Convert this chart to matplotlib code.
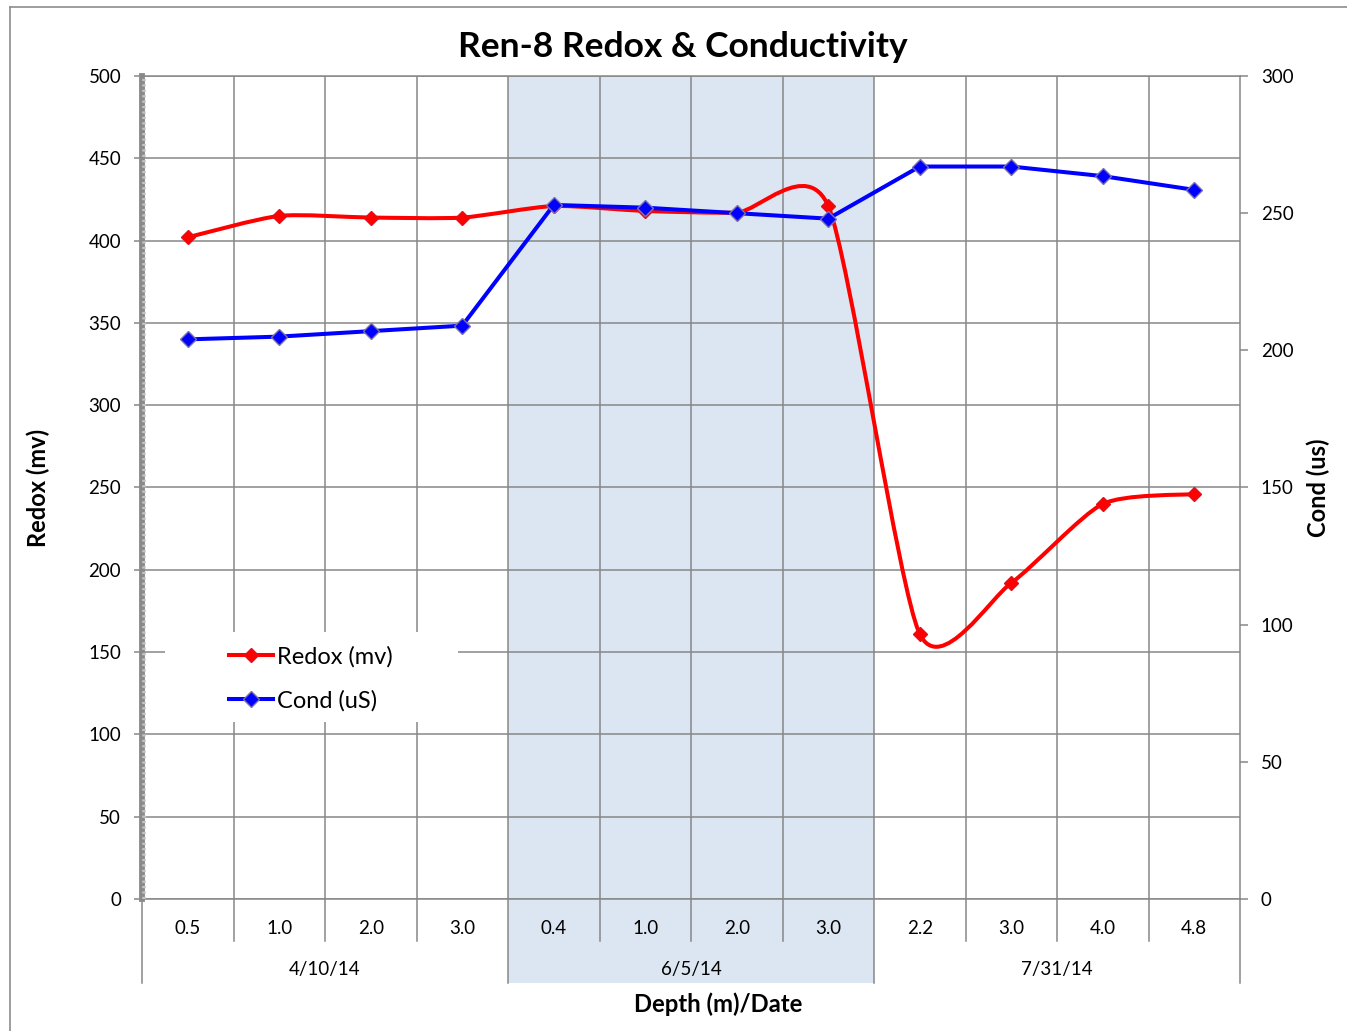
import matplotlib
matplotlib.use("Agg")
import matplotlib.pyplot as plt
from matplotlib.path import Path
from matplotlib.patches import PathPatch, Rectangle
from matplotlib.lines import Line2D
import matplotlib.transforms as mtransforms

plt.rcParams["font.family"] = ["Lato", "DejaVu Sans"]

# =====================
# DATA
# =====================

depths = ["0.5", "1.0", "2.0", "3.0",
          "0.4", "1.0", "2.0", "3.0",
          "2.2", "3.0", "4.0", "4.8"]

dates = ["4/10/14", "6/5/14", "7/31/14"]
group_size = [4, 4, 4]

redox = [402, 415, 414, 414, 421, 418, 417, 421, 161, 192, 240, 246]
cond = [204, 205, 207, 209, 253, 252, 250, 248, 267, 267, 263.5, 258.5]

x = list(range(len(depths)))

GRID = "#878787"
SHADE = "#DCE6F2"


def smooth_path(xs, ys, f=0.115):
    # bezier through the points, like excel's smoothed line
    verts = [(xs[0], ys[0])]
    codes = [Path.MOVETO]
    n = len(xs)
    for i in range(n - 1):
        i0 = max(i - 1, 0)
        i3 = min(i + 2, n - 1)
        c1 = (xs[i] + (xs[i + 1] - xs[i0]) * f, ys[i] + (ys[i + 1] - ys[i0]) * f)
        c2 = (xs[i + 1] - (xs[i3] - xs[i]) * f, ys[i + 1] - (ys[i3] - ys[i]) * f)
        verts += [c1, c2, (xs[i + 1], ys[i + 1])]
        codes += [Path.CURVE4] * 3
    return Path(verts, codes)


# =====================
# FIGURE
# =====================

fig = plt.figure(figsize=(13.47, 10.31), dpi=100)
ax = fig.add_axes([142 / 1347, 1 - 899 / 1031, 1098 / 1347, 823 / 1031])

# outer chart border (left and top only visible)
fig.add_artist(Line2D([9.5 / 1347, 9.5 / 1347], [0, 1 - 6.5 / 1031],
                      transform=fig.transFigure, color="#8c8c8c", lw=1.2))
fig.add_artist(Line2D([9.5 / 1347, 1], [1 - 6.5 / 1031, 1 - 6.5 / 1031],
                      transform=fig.transFigure, color="#8c8c8c", lw=1.2))

ax.set_xlim(-0.5, len(depths) - 0.5)
ax.set_ylim(0, 500)
ax.set_yticks(range(0, 501, 50))
ax.set_xticks([])

# shaded middle group, reaching into the category labels
start = group_size[0] - 0.5
end = start + group_size[1]
ax.axvspan(start, end, ymin=-0.102, ymax=1, color=SHADE, zorder=0, clip_on=False, lw=0)

# grid
for v in range(0, 501, 50):
    ax.axhline(v, color=GRID, lw=1.1, zorder=1)
for b in range(len(depths) - 1):
    ax.axvline(b + 0.5, color=GRID, lw=1.1, zorder=1)

# category separators below the axis
trans = mtransforms.blended_transform_factory(ax.transData, ax.transAxes)
group_edges = [-0.5]
for g in group_size:
    group_edges.append(group_edges[-1] + g)
for b in range(len(depths) + 1):
    xb = b - 0.5
    low = -0.102 if xb in group_edges else -0.051
    ax.plot([xb, xb], [0, low], transform=trans, color=GRID, lw=1.1, clip_on=False)

# depth and date labels
for i, d in enumerate(depths):
    ax.text(i, -0.036, d, transform=trans, ha="center", va="center", fontsize=13.5)
for k, dt in enumerate(dates):
    mid = (group_edges[k] + group_edges[k + 1]) / 2
    ax.text(mid, -0.086, dt, transform=trans, ha="center", va="center", fontsize=13.5)

for s in ["top", "bottom", "right"]:
    ax.spines[s].set_color(GRID)
    ax.spines[s].set_linewidth(1.1)
ax.spines["left"].set_color("#8a8a8a")
ax.spines["left"].set_linewidth(4.2)
ax.plot([0.0015, 0.0015], [0, 1], transform=ax.transAxes, color="#c4c4c4",
        lw=2.6, linestyle=(0, (0.6, 0.9)), clip_on=False, zorder=3)

ax.tick_params(axis="y", direction="out", length=6, width=1.1, color=GRID,
               pad=9, labelsize=13.5)

# redox line
ax.add_patch(PathPatch(smooth_path(x, redox), fill=False, edgecolor="#FF0000",
                       lw=2.9, zorder=4, capstyle="round"))
ax.plot(x, redox, linestyle="none", marker="D", markersize=7.5,
        color="#FF0000", markeredgecolor="#E0101A", zorder=5)

ax.set_ylabel("Redox (mv)", fontsize=17, fontweight="bold", va="center")
ax.yaxis.set_label_coords((38 - 142) / 1098, 0.5)

# =====================
# COND AXIS
# =====================

ax2 = ax.twinx()
ax2.set_ylim(0, 300)
ax2.set_yticks(range(0, 301, 50))
for s in ax2.spines.values():
    s.set_visible(False)
ax2.tick_params(axis="y", direction="out", length=6, width=1.1, color=GRID,
                pad=9, labelsize=13.5)

ax2.plot(x, cond, color="#0000FF", lw=2.9, marker="D", markersize=7.8,
         markerfacecolor="#0000FF", markeredgecolor="#7b6fae",
         markeredgewidth=1.0, zorder=5)

ax2.set_ylabel("Cond (us)", fontsize=17, fontweight="bold", rotation=90, va="center")
ax2.yaxis.set_label_coords((1318 - 142) / 1098, 0.5)

# legend box
ax2.add_patch(Rectangle((0.021, (899 - 722) / 823), 293 / 1098, 90 / 823,
                        transform=ax2.transAxes, facecolor="white",
                        edgecolor="none", zorder=4))
handles = [
    Line2D([], [], color="#FF0000", lw=2.9, marker="D", markersize=7.5,
           markeredgecolor="#E0101A"),
    Line2D([], [], color="#0000FF", lw=2.9, marker="D", markersize=7.8,
           markeredgecolor="#7b6fae"),
]
leg = ax2.legend(handles, ["Redox (mv)", "Cond (uS)"], loc="upper left",
                 bbox_to_anchor=((229 - 142) / 1098, (899 - 646) / 823),
                 borderaxespad=0, borderpad=0, frameon=False, fontsize=17,
                 handlelength=1.85, handletextpad=0.2, labelspacing=0.95)
leg.set_zorder(6)

# =====================
# TITLES
# =====================

fig.text(0.507, 1 - 47 / 1031, "Ren-8 Redox & Conductivity", ha="center",
         va="center", fontsize=25.5, fontweight="bold")
ax.text((718 - 142) / 1098, -0.128, "Depth (m)/Date", transform=ax.transAxes,
        ha="center", va="center", fontsize=17.2, fontweight="bold")

fig.savefig("out.png", dpi=100)
